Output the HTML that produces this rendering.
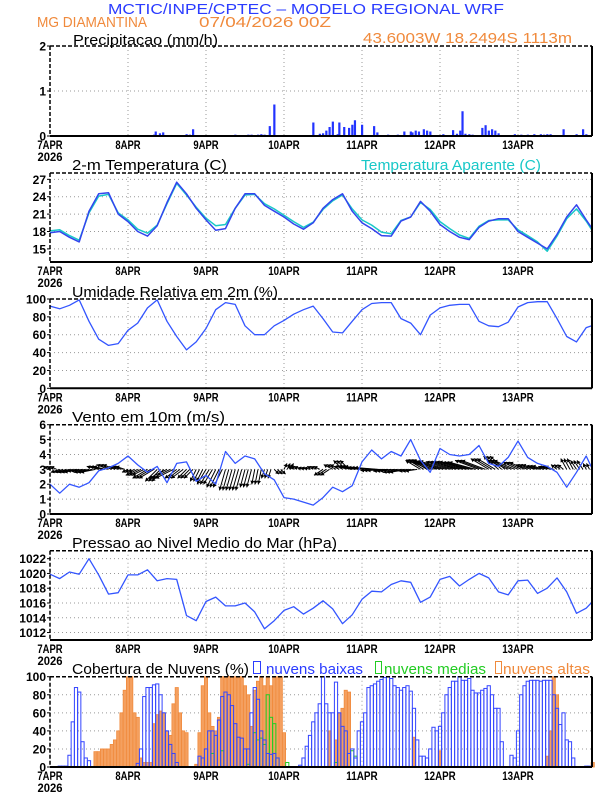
<!DOCTYPE html>
<html><head><meta charset="utf-8"><title>Meteograma WRF Diamantina</title>
<style>
html,body{margin:0;padding:0;background:#fff;}
svg{display:block;font-family:"Liberation Sans",sans-serif;}
</style></head>
<body>
<svg id="chart" width="612" height="792" viewBox="0 0 612 792" xmlns="http://www.w3.org/2000/svg">
<rect x="0" y="0" width="612" height="792" fill="#fff"/>
<text x="108" y="14" font-size="15" fill="#2b3cff" textLength="396" lengthAdjust="spacingAndGlyphs">MCTIC/INPE/CPTEC – MODELO REGIONAL WRF</text>
<text x="37" y="27" font-size="15" fill="#f08a3c" textLength="110" lengthAdjust="spacingAndGlyphs">MG DIAMANTINA</text>
<text x="199" y="27" font-size="15" fill="#f08a3c" textLength="132" lengthAdjust="spacingAndGlyphs">07/04/2026 00Z</text>
<text x="363" y="43" font-size="15" fill="#f08a3c" textLength="209" lengthAdjust="spacingAndGlyphs">43.6003W 18.2494S 1113m</text>
<text x="73" y="45" font-size="15" fill="#000" textLength="145" lengthAdjust="spacingAndGlyphs">Precipitacao (mm/h)</text>
<text x="72" y="170" font-size="15" fill="#000" textLength="155" lengthAdjust="spacingAndGlyphs">2-m Temperatura (C)</text>
<text x="361" y="170" font-size="15" fill="#19c8c8" textLength="180" lengthAdjust="spacingAndGlyphs">Temperatura Aparente (C)</text>
<text x="72" y="297" font-size="15" fill="#000" textLength="206" lengthAdjust="spacingAndGlyphs">Umidade Relativa em 2m (%)</text>
<text x="72" y="422" font-size="15" fill="#000" textLength="153" lengthAdjust="spacingAndGlyphs">Vento em 10m (m/s)</text>
<text x="72" y="548" font-size="15" fill="#000" textLength="265" lengthAdjust="spacingAndGlyphs">Pressao ao Nivel Medio do Mar (hPa)</text>
<text x="72" y="674" font-size="15" fill="#000" textLength="177" lengthAdjust="spacingAndGlyphs">Cobertura de Nuvens (%)</text>
<rect x="253.5" y="661.5" width="7" height="12" fill="#fff" stroke="#2b3cff"/>
<text x="266" y="674" font-size="15" fill="#2b3cff" textLength="97" lengthAdjust="spacingAndGlyphs">nuvens baixas</text>
<rect x="375.5" y="661.5" width="6" height="12" fill="#fff" stroke="#22cc22"/>
<text x="384" y="674" font-size="15" fill="#22cc22" textLength="102" lengthAdjust="spacingAndGlyphs">nuvens medias</text>
<rect x="495.5" y="661.5" width="6" height="12" fill="#fff" stroke="#f08a3c"/>
<text x="503" y="674" font-size="15" fill="#f08a3c" textLength="87" lengthAdjust="spacingAndGlyphs">nuvens altas</text>
<g id="layer"></g>
</svg>
<script>
// ===== data =====
const dayLabels = ["7APR","8APR","9APR","10APR","11APR","12APR","13APR"];
const yearLabel = "2026";
const lineHours = [0,3,6,9,12,15,18,21,24,27,30,33,36,39,42,45,48,51,54,57,60,63,66,69,72,75,78,81,84,87,90,93,96,99,102,105,108,111,114,117,120,123,126,129,132,135,138,141,144,147,150,153,156,159,162,165,166.7];

const precipTicks = [0,1,2];
const precipHours = [4,8,13,20,26,32,32.5,33.8,34.8,36,42,43,44,50,55,57,58,59,61,62,64,64.5,65,66,67.6,69,81,82,83,84,85,86,87,88.5,89,90.5,92,93,93.8,96,99.7,100.7,103,104,107,109,111,111.5,112.5,113.5,115,116,117,118,119,121,124,125.2,126.2,126.9,127.8,129,130,133,134,135,136,137,138,143,145,147,149,151,152,153,154,158,160,162,164,165];
const precipValues = [0.01,0.01,0.01,0.01,0.02,0.03,0.1,0.06,0.08,0.02,0.04,0.03,0.15,0.02,0.02,0.03,0.01,0.01,0.03,0.03,0.03,0.01,0.04,0.03,0.22,0.7,0.3,0.02,0.05,0.06,0.12,0.2,0.32,0.04,0.3,0.2,0.18,0.25,0.35,0.25,0.22,0.08,0.02,0.03,0.03,0.1,0.1,0.08,0.12,0.1,0.15,0.12,0.1,0.02,0.02,0.04,0.13,0.05,0.12,0.55,0.05,0.04,0.03,0.18,0.24,0.12,0.15,0.12,0.06,0.04,0.03,0.03,0.04,0.04,0.03,0.04,0.04,0.15,0.02,0.04,0.15,0.04,0.02];

const tempTicks = [15,18,21,24,27];
const tempValues = [17.8,18,17,16.2,21.5,24.5,24.7,21,19.7,18,17.2,19,23,26.5,24.5,22,20,18.2,18.5,22,24.5,24.5,22.5,21.5,20.5,19.3,18.4,19.5,22,23.5,24.5,21.5,19.5,18.5,17.3,17.2,19.8,20.5,23.2,21.5,19.2,18,17,16.6,18.7,19.8,20.2,20.2,18,17,16,15,17.5,20.5,22.6,20,18.6];
const apparentValues = [18.1,18.3,17.3,16.5,21.2,24.1,24.4,21.2,20,18.4,17.7,19.1,22.8,26.3,24.3,22.2,20.3,19,19.2,22,24.3,24.4,22.8,21.9,20.8,19.7,18.7,19.6,21.8,23.3,24.3,21.9,20,19.1,17.9,17.6,19.9,20.5,23,21.8,19.7,18.5,17.4,16.8,18.9,19.9,20,20,18.3,17.3,16.2,14.6,17.2,20.2,21.9,19.8,18.3];

const rhTicks = [0,20,40,60,80,100];
const rhValues = [92,89,93,99,75,55,48,50,65,73,90,99,75,58,43,52,67,88,96,94,70,60,60,70,76,83,88,92,78,63,62,75,88,95,96,96,78,73,60,82,90,93,94,94,75,70,69,74,91,96,97,97,78,58,52,68,70];

const windTicks = [0,1,2,3,4,5,6];
const windSpeed = [2.0,1.4,2.0,1.8,2.1,2.9,3.1,3.4,3.9,3.3,2.8,3.2,2.1,3.4,3.5,2.2,2.6,2.0,4.2,3.4,3.9,3.7,2.7,2.3,1.1,1.0,0.8,0.6,1.1,1.8,1.5,1.9,3.5,4.3,3.7,4.2,3.9,5.0,3.6,2.8,4.4,4.0,3.9,4.0,4.6,3.4,3.2,3.8,4.9,3.8,3.4,3.2,2.8,1.8,2.8,3.9,3.1];
const windU = [-1,-1.5,-2,-2,-2.5,-2,-2,-1.5,-1,-2,-2.5,-2,-3,-2,-1.5,-1,-1.5,-1.5,-1,-1,-0.8,-0.5,-0.5,0.8,0.5,-1,-1,-1,-1.5,-1.5,-1.5,-3,-4,-4,-3.5,-3,-3,-2,-2.5,-4,-4.5,-4,-4.5,-4.5,-4,-3,-2.5,-3.5,-2.5,-2,-2,-1.5,-1,-1,-1,-0.5,-0.5];
const windV = [0.5,-0.5,-0.5,-0.3,-0.5,0.5,0.8,0.5,-0.5,-1,-1.5,-2,-1.5,-1.5,-1.5,-2,-2.5,-3,-3.5,-3.5,-3,-2.5,-1.5,-0.8,1,0.5,0.3,0.5,-1,0.8,1.5,0.5,0.5,0.3,-0.2,-0.3,-0.5,-0.3,1.5,1.6,1.4,1.3,1.3,1.2,1.5,1.8,2.2,1.5,1.2,0.8,0.6,0.5,0.8,1.8,1.5,1.0,1.0];

const presTicks = [1012,1014,1016,1018,1020,1022];
const presValues = [1019.9,1019.3,1020.2,1019.9,1022,1019.8,1017.2,1017.4,1019.8,1019.8,1020.5,1019,1019.3,1019.2,1014.3,1013.6,1016.2,1016.8,1015.6,1015.6,1016,1014.8,1012.5,1013.6,1015,1015.5,1014.5,1015.3,1016.3,1015.2,1013.2,1014.4,1016.5,1017.6,1017.5,1018.5,1019,1018.8,1016.1,1016.8,1019.2,1019.6,1018.3,1019.2,1020,1019.4,1017.5,1017.1,1019,1019.1,1017.3,1018,1019.4,1017.5,1014.6,1015.3,1016.1];

const cloudTicks = [0,20,40,60,80,100];
const lowClouds = [0,0,0,1,1,1,13,50,88,83,28,10,7,0,0,0,0,0,0,0,0,0,0,0,0,0,0,4,20,78,88,88,91,92,80,60,40,25,15,5,0,0,0,0,0,0,12,10,20,40,40,35,52,78,83,80,68,48,33,32,20,20,60,88,75,40,30,15,14,15,10,0,0,0,0,0,0,2,10,23,35,50,60,70,100,70,60,60,94,60,45,40,15,20,10,40,50,60,88,90,92,95,97,99,100,98,90,88,85,88,90,84,65,30,12,12,10,20,44,40,45,60,80,88,95,95,100,96,96,98,85,82,82,85,87,90,80,65,65,28,0,0,13,10,40,80,90,95,96,96,96,95,96,96,96,80,65,47,60,30,28,10,0,0,0,1,1];
const medClouds = [0,0,0,0,0,0,0,0,0,0,0,0,0,0,0,0,0,0,0,0,0,0,0,0,0,0,0,0,0,0,0,0,0,0,0,0,0,0,0,0,0,0,0,0,0,0,0,0,0,0,15,0,0,18,0,0,0,0,0,0,0,3,0,38,30,32,25,80,55,48,10,0,0,5,0,0,0,0,0,0,0,0,0,0,0,0,0,0,5,0,0,0,0,18,12,0,0,0,0,0,0,0,0,0,0,0,0,0,0,0,0,0,0,0,0,0,0,0,0,0,0,0,0,0,0,0,0,0,0,0,0,0,0,0,0,0,0,0,0,0,0,0,0,0,0,0,0,0,0,0,0,0,0,0,0,0,0,0,0,0,0,0,0,0,0,0,0];
const highClouds = [0,0,0,0,0,0,0,0,0,0,0,0,0,0,17,17,20,20,20,25,30,40,60,85,100,100,60,55,10,5,5,5,48,58,62,60,40,35,70,88,60,40,38,0,0,3,38,90,100,60,45,40,55,100,100,100,100,100,100,100,90,80,45,85,95,100,90,100,90,100,100,100,38,0,0,0,0,0,0,0,0,0,0,0,0,0,40,0,30,60,65,85,83,0,0,0,0,0,0,0,0,0,0,0,0,0,0,0,0,0,0,0,33,0,0,0,0,0,0,0,18,0,0,0,0,0,0,0,0,0,0,0,0,0,0,0,0,0,0,0,0,0,0,0,0,0,0,0,0,0,0,0,0,12,40,100,80,0,0,0,0,0,0,0,0,0,0,5];

// ===== layout =====
const X0 = 50, X1 = 592, HOURS_END = 166.77;
const NS = "http://www.w3.org/2000/svg";
const layer = document.getElementById('layer');
function xScale(h){ return X0 + (X1 - X0) * h / HOURS_END; }
function yScaleFactory(top,bottom,ymin,ymax){ return v => bottom - (v - ymin) / (ymax - ymin) * (bottom - top); }
function mk(tag, attrs){ const e = document.createElementNS(NS, tag); for (const k in attrs) e.setAttribute(k, attrs[k]); layer.appendChild(e); return e; }

const panels = {
  precip:{top:46,bottom:136,ymin:0,ymax:2,ticks:precipTicks},
  temp:{top:173,bottom:262,ymin:12.74,ymax:28.09,ticks:tempTicks},
  rh:{top:299,bottom:388.3,ymin:0,ymax:100,ticks:rhTicks},
  wind:{top:424.7,bottom:514,ymin:0,ymax:6,ticks:windTicks},
  pres:{top:550.7,bottom:640,ymin:1010.99,ymax:1023.08,ticks:presTicks},
  cloud:{top:676.7,bottom:767,ymin:0,ymax:100,ticks:cloudTicks}
};
for (const key in panels){ const p = panels[key]; p.y = yScaleFactory(p.top,p.bottom,p.ymin,p.ymax); }

function drawFrame(key){
  const p = panels[key];
  for (let d = 1; d < dayLabels.length; d++){
    const gx = xScale(d*24);
    const g = mk('line',{x1:gx,x2:gx,y1:p.top,y2:p.bottom,stroke:'#999','stroke-width':1,'stroke-dasharray':'1 3'});
    
    
  }
  p.ticks.forEach(t => {
    const gy = p.y(t);
    if (gy > p.top + 1 && gy < p.bottom - 1){
      const g = mk('line',{x1:X0,x2:X1,y1:gy,y2:gy,stroke:'#999','stroke-width':1,'stroke-dasharray':'1 3'});
      
      
    }
    const tk = mk('line',{x1:X0-3,x2:X0,y1:gy,y2:gy,stroke:'#000','stroke-width':1});
    
    
    const lab = mk('text',{x:X0-4,y:gy+4.5,'font-size':12,'font-weight':'bold','text-anchor':'end',fill:'#000'});
    lab.textContent = String(t);
    
    
  });
  dayLabels.forEach((lbl,d) => {
    const lx = xScale(d*24);
    const t = mk('text',{x:lx,y:p.bottom+13,'font-size':12,'font-weight':'bold','text-anchor':'middle',fill:'#000',textLength:lbl.length*6.3,lengthAdjust:'spacingAndGlyphs'});
    t.textContent = lbl;
    
    
  });
  const yr = mk('text',{x:xScale(0),y:p.bottom+25,'font-size':12,'font-weight':'bold','text-anchor':'middle',fill:'#000',textLength:25,lengthAdjust:'spacingAndGlyphs'});
  yr.textContent = yearLabel;
  
  
}
function drawBorder(key){
  const p = panels[key];
  const a = mk('line',{x1:X0,x2:X1,y1:p.top,y2:p.top,stroke:'#000','stroke-width':1.5,'stroke-dasharray':'4 2'});
   
  const b = mk('line',{x1:X0,x2:X0,y1:p.top,y2:p.bottom,stroke:'#000','stroke-width':1.5,'stroke-dasharray':'4 2'});
   
  const c = mk('line',{x1:X1,x2:X1,y1:p.top,y2:p.bottom,stroke:'#000','stroke-width':2});
   
  const d = mk('line',{x1:X0,x2:X1,y1:p.bottom,y2:p.bottom,stroke:'#000','stroke-width':2});
   
}
function drawLine(key, values, color, name, w){
  const p = panels[key];
  const pts = values.map((v,i) => xScale(lineHours[i]).toFixed(1) + ',' + p.y(v).toFixed(1)).join(' ');
  const l = mk('polyline',{points:pts,fill:'none',stroke:color,'stroke-width':w||1.3,'stroke-linejoin':'round'});
  
  
}

Object.keys(panels).forEach(drawFrame);

precipHours.forEach((h,i) => {
  const p = panels.precip, y = p.y(precipValues[i]);
  const r = mk('rect',{x:xScale(h)-1,y:y,width:2.2,height:p.bottom-y,fill:'#2233ff'});
  
  
});

drawLine('temp', apparentValues, '#19c8c8', 'apparent-temp-line', 1.5);
drawLine('temp', tempValues, '#3344ee', 'temp-line', 1.5);
drawLine('rh', rhValues, '#3355ff', 'rh-line', 1.3);
(function(){
  const p = panels.wind, y3 = p.y(3), k = 6;
  for (let h = 0; h <= 166; h++){
    const i = Math.min(Math.floor(h/3), windU.length-1);
    const x = xScale(h), dx = windU[i]*k, dy = -windV[i]*k;
    const len = Math.hypot(dx,dy) || 1, ux = dx/len, uy = dy/len;
    const tx = x+dx, ty = y3+dy;
    const a = mk('line',{x1:x,y1:y3,x2:tx,y2:ty,stroke:'#000','stroke-width':1});
    
    
    const hs = 3.5;
    const pts = [tx,ty, tx-ux*hs-uy*hs*0.6, ty-uy*hs+ux*hs*0.6, tx-ux*hs+uy*hs*0.6, ty-uy*hs-ux*hs*0.6].map(v=>v.toFixed(1));
    const hd = mk('polygon',{points:pts.join(' '),fill:'#000'});
    
    
  }
})();
drawLine('wind', windSpeed, '#3355ff', 'wind-speed-line', 1.3);
drawLine('pres', presValues, '#3355ff', 'pressure-line', 1.3);
(function(){
  const p = panels.cloud, w = 3.2;
  highClouds.forEach((v,h) => { if (v<=0) return; const y=p.y(v);
    const r = mk('rect',{x:xScale(h)-w/2,y:y,width:w,height:p.bottom-y,fill:'#f4a060',stroke:'#f08a3c','stroke-width':0.8});
    
     });
  medClouds.forEach((v,h) => { if (v<=0) return; const y=p.y(v);
    const r = mk('rect',{x:xScale(h)-w/2,y:y,width:w,height:p.bottom-y,fill:'none',stroke:'#22cc22','stroke-width':1});
    
     });
  lowClouds.forEach((v,h) => { if (v<=0) return; const y=p.y(v);
    const r = mk('rect',{x:xScale(h)-w/2,y:y,width:w,height:p.bottom-y,fill:'none',stroke:'#3344ff','stroke-width':1});
    
     });
})();

Object.keys(panels).forEach(drawBorder);
</script>
</body></html>
